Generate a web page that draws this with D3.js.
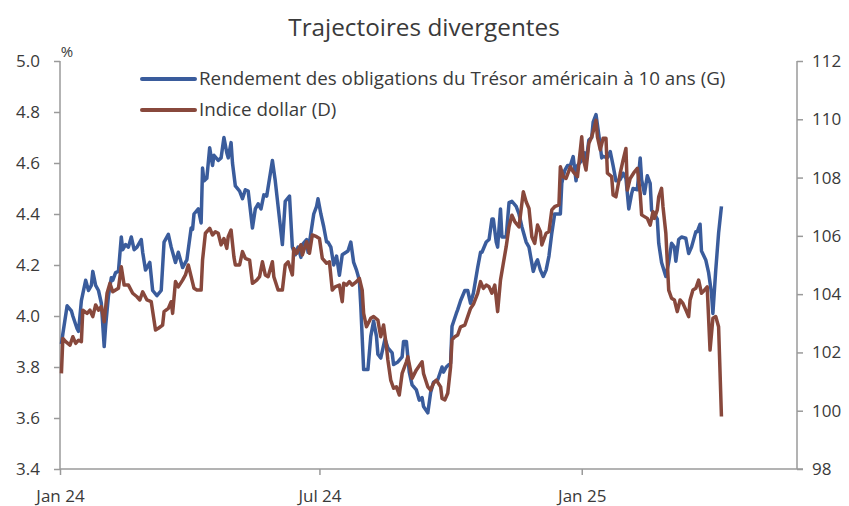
<!DOCTYPE html>
<html>
<head>
<meta charset="utf-8">
<script src="https://cdn.jsdelivr.net/npm/d3@7"></script>
<style>
  body { margin: 0; background: #fff; }
  text { font-family: "Open Sans", Lato, sans-serif; fill: #3a3a3a; }
</style>
</head>
<body>
<div id="chart"></div>
<script>
// day offsets from 1 Jan 2024
var yieldDays = [1,2,5,8,9,12,13,15,18,20,22,23,25,27,29,31,32,34,36,37,39,41,43,44,46,48,50,52,54,57,58,60,63,65,68,71,73,76,78,81,83,86,89,92,93,94,97,99,
  100,101,103,105,107,108,111,113,115,117,118,120,121,123,126,128,130,132,135,137,139,141,143,145,149,151,153,156,158,161,163,165,167,169,170,173,174,176,178,180,181,183,185,187,188,190,192,194,196,198,
  202,204,206,208,210,211,213,216,218,220,222,223,225,228,230,233,234,237,240,241,243,245,247,250,252,254,255,258,260,262,265,268,269,271,274,275,278,279,281,284,286,288,290,293,295,296,299,
  301,303,304,306,307,309,310,313,315,317,320,322,324,327,329,332,334,335,337,339,341,343,345,347,349,351,352,354,356,358,360,362,363,366,368,369,371,373,374,376,378,380,381,384,386,388,390,393,395,397,399,
  401,402,405,407,408,410,412,414,415,417,419,420,422,425,427,429,431,432,434,436,439,441,443,446,447,449,450,453,455,457,458,460,462,464];
var yieldValues = [3.89,3.93,4.04,4.02,4.00,3.95,3.94,4.06,4.14,4.10,4.12,4.175,4.12,4.10,4.05,3.88,3.96,4.08,4.15,4.14,4.17,4.175,4.31,4.26,4.28,4.27,4.31,4.26,4.27,4.30,4.25,4.18,4.21,4.10,4.08,4.10,4.29,4.32,4.27,4.21,4.25,4.19,4.22,4.345,4.34,4.40,4.42,4.365,
  4.58,4.53,4.54,4.66,4.59,4.63,4.61,4.62,4.70,4.64,4.62,4.68,4.60,4.51,4.49,4.46,4.495,4.49,4.345,4.42,4.44,4.42,4.475,4.47,4.61,4.53,4.43,4.28,4.45,4.47,4.27,4.24,4.27,4.23,4.28,4.30,4.25,4.325,4.40,4.43,4.46,4.40,4.35,4.29,4.29,4.27,4.20,4.235,4.16,4.24,
  4.255,4.29,4.21,4.18,4.14,4.04,3.79,3.79,3.92,3.98,3.92,3.85,3.835,3.91,3.875,3.855,3.81,3.82,3.84,3.90,3.90,3.78,3.73,3.71,3.67,3.68,3.645,3.62,3.70,3.74,3.75,3.80,3.78,3.80,3.815,3.96,4.01,4.025,4.06,4.10,4.10,4.05,4.09,4.19,4.25,4.25,4.29,
  4.30,4.38,4.38,4.29,4.27,4.42,4.31,4.31,4.445,4.45,4.43,4.40,4.35,4.29,4.27,4.175,4.21,4.22,4.18,4.155,4.18,4.235,4.325,4.40,4.40,4.40,4.52,4.57,4.59,4.59,4.625,4.53,4.59,4.61,4.64,4.60,4.69,4.70,4.76,4.79,4.71,4.62,4.626,4.62,4.645,4.59,4.53,4.535,4.56,4.54,4.42,
  4.48,4.50,4.495,4.62,4.535,4.48,4.55,4.52,4.415,4.40,4.38,4.285,4.21,4.155,4.21,4.285,4.27,4.215,4.30,4.31,4.305,4.245,4.27,4.33,4.33,4.36,4.255,4.22,4.17,4.09,4.01,4.18,4.325,4.43];

var dollarDays = [1,2,4,7,9,11,13,15,16,19,21,23,25,27,29,31,33,35,37,39,41,43,45,48,51,54,56,58,61,64,67,69,72,73,76,78,79,81,83,86,88,90,92,94,96,99,
  100,102,105,107,109,111,113,115,117,118,120,122,123,126,128,130,133,135,138,140,142,144,146,149,150,153,156,158,160,163,164,166,169,170,173,175,177,180,182,184,187,189,191,193,196,198,199,
  201,203,205,208,210,212,213,215,218,220,223,225,227,229,230,232,234,236,238,240,243,244,247,250,254,255,258,260,262,264,267,268,270,272,274,275,277,279,281,284,286,288,290,293,295,297,299,
  301,303,305,307,309,311,313,315,317,319,322,325,327,329,331,333,335,337,338,341,343,345,347,350,351,353,355,358,360,363,366,367,369,371,373,375,376,377,379,381,383,384,387,388,390,393,395,397,398,
  400,403,405,407,408,410,412,414,416,417,419,420,422,423,425,427,429,431,433,435,437,439,441,442,444,446,448,450,451,454,456,458,460,462,464];
var dollarValues = [101.28,102.48,102.37,102.25,102.54,102.31,102.42,102.37,103.45,103.34,103.45,103.23,103.63,103.45,103.57,103.05,104.03,104.37,104.08,104.14,104.2,104.94,104.31,104.31,104.03,103.91,103.8,104.08,103.8,103.74,102.77,102.83,102.94,103.4,103.51,103.74,103.34,104.43,104.25,104.48,104.66,105.0,104.6,104.2,104.14,104.14,
  105.17,106.09,106.26,106.03,106.14,106.09,105.69,105.91,105.57,105.97,106.2,105.28,105.0,105.0,105.46,105.23,105.17,104.37,104.48,104.6,105.11,104.66,104.6,105.11,104.6,104.14,104.14,105.0,105.11,104.66,105.57,105.4,105.69,105.34,105.8,105.4,106.03,105.97,105.91,105.23,105.06,105.11,104.14,104.25,104.31,103.74,104.37,
  104.31,104.43,104.31,104.43,104.54,104.14,103.34,102.88,103.17,103.23,103.11,102.54,102.94,102.2,101.74,101.05,100.77,100.82,100.54,101.28,101.68,101.85,101.11,101.4,101.68,101.28,100.82,100.71,100.94,101.05,100.82,100.42,100.37,100.6,101.51,102.43,102.54,102.6,102.88,102.94,103.23,103.51,103.65,104.03,104.43,104.2,104.31,
  104.25,104.03,104.31,103.4,104.48,105.06,105.63,106.31,106.71,106.49,106.31,107.51,107.17,106.94,105.97,105.74,106.37,106.14,105.69,106.09,106.14,106.89,107.0,107.06,108.37,108.03,107.97,108.37,108.2,108.03,109.4,108.66,108.26,109.18,109.4,109.75,109.97,109.4,108.95,109.35,109.35,108.15,108.03,107.4,107.34,108.15,108.6,109.0,107.57,
  107.97,108.2,108.32,107.46,106.72,106.66,106.6,106.37,106.83,106.6,106.89,107.34,107.63,107.0,106.09,104.14,103.86,103.8,103.4,103.8,103.68,103.46,103.23,103.8,104.14,104.2,104.48,104.03,104.08,104.25,102.08,103.17,103.23,102.88,99.8];

var xTickDates = ["2024-01-01", "2024-07-01", "2025-01-01"];
var xTickLabels = ["Jan 24", "Jul 24", "Jan 25"];
var leftTicks = [3.4, 3.6, 3.8, 4.0, 4.2, 4.4, 4.6, 4.8, 5.0];
var rightTicks = [98, 100, 102, 104, 106, 108, 110, 112];
var seriesNames = ["Rendement des obligations du Trésor américain à 10 ans (G)", "Indice dollar (D)"];
var seriesColors = ["#3a5c9c", "#88483c"];

var w = 849, h = 506;
var mLeft = 60, mRight = 797, mTop = 61, mBottom = 469;
var parse = d3.timeParse("%Y-%m-%d");
var start = parse("2024-01-01");

var svg = d3.select("#chart").append("svg")
  .attr("width", w)
  .attr("height", h);

var x = d3.scaleTime()
  .domain([start, parse("2025-06-01")])
  .range([mLeft, mRight]);
var yL = d3.scaleLinear().domain([3.4, 5.0]).range([mBottom, mTop]);
var yR = d3.scaleLinear().domain([98, 112]).range([mBottom, mTop]);

function toPoints(days, vals) {
  return days.map(function(d, i) {
    return { date: d3.timeDay.offset(start, d), v: vals[i] };
  });
}
var yieldData = toPoints(yieldDays, yieldValues);
var dollarData = toPoints(dollarDays, dollarValues);

// title
svg.append("text")
  .attr("x", 424)
  .attr("y", 36)
  .attr("text-anchor", "middle")
  .style("font-size", "24.3px")
  .text("Trajectoires divergentes");

// axes
var axisColor = "#9a9a9a";
var gL = svg.append("g").attr("transform", "translate(" + mLeft + ",0)")
  .call(d3.axisLeft(yL).tickValues(leftTicks).tickFormat(d3.format(".1f")).tickSize(6).tickPadding(14));
var gR = svg.append("g").attr("transform", "translate(" + mRight + ",0)")
  .call(d3.axisRight(yR).tickValues(rightTicks).tickFormat(d3.format("d")).tickSize(6).tickPadding(9));
var gX = svg.append("g").attr("transform", "translate(0," + mBottom + ")")
  .call(d3.axisBottom(x).tickValues(xTickDates.map(parse))
    .tickFormat(function(d, i) { return xTickLabels[i]; }).tickSize(6).tickPadding(15));

[gL, gR, gX].forEach(function(g) {
  g.select(".domain").attr("stroke", axisColor).attr("stroke-width", 1.5);
  g.selectAll(".tick line").attr("stroke", axisColor).attr("stroke-width", 1.5);
  g.selectAll("text").style("font-size", "17px").attr("fill", "#3a3a3a")
    .style("font-family", "'Open Sans', Lato, sans-serif");
});
gX.select(".domain").attr("d", "M" + mLeft + ",0H" + (mRight + 6));
gL.select(".domain").attr("d", "M0," + mTop + "V" + mBottom);
gR.select(".domain").attr("d", "M0," + mTop + "V" + mBottom);

svg.append("text")
  .attr("x", 67)
  .attr("y", 57)
  .attr("text-anchor", "middle")
  .style("font-size", "15px")
  .text("%");

// lines
var lineL = d3.line().x(function(d) { return x(d.date); }).y(function(d) { return yL(d.v); });
var lineR = d3.line().x(function(d) { return x(d.date); }).y(function(d) { return yR(d.v); });

svg.append("path").datum(yieldData)
  .attr("fill", "none")
  .attr("stroke", seriesColors[0])
  .attr("stroke-width", 3.5)
  .attr("stroke-linejoin", "round")
  .attr("d", lineL);
svg.append("path").datum(dollarData)
  .attr("fill", "none")
  .attr("stroke", seriesColors[1])
  .attr("stroke-width", 3.5)
  .attr("stroke-linejoin", "round")
  .attr("d", lineR);

// legend
var legend = svg.append("g").attr("class", "legend");
seriesNames.forEach(function(name, i) {
  var g = legend.append("g");
  g.append("line")
    .attr("x1", 142).attr("x2", 195)
    .attr("y1", 79 + i * 31).attr("y2", 79 + i * 31)
    .attr("stroke", seriesColors[i])
    .attr("stroke-width", 4)
    .attr("stroke-linecap", "round");
  g.append("text")
    .attr("x", 199)
    .attr("y", 85 + i * 31)
    .style("font-size", "18.8px")
    .text(name);
});
</script>
</body>
</html>
